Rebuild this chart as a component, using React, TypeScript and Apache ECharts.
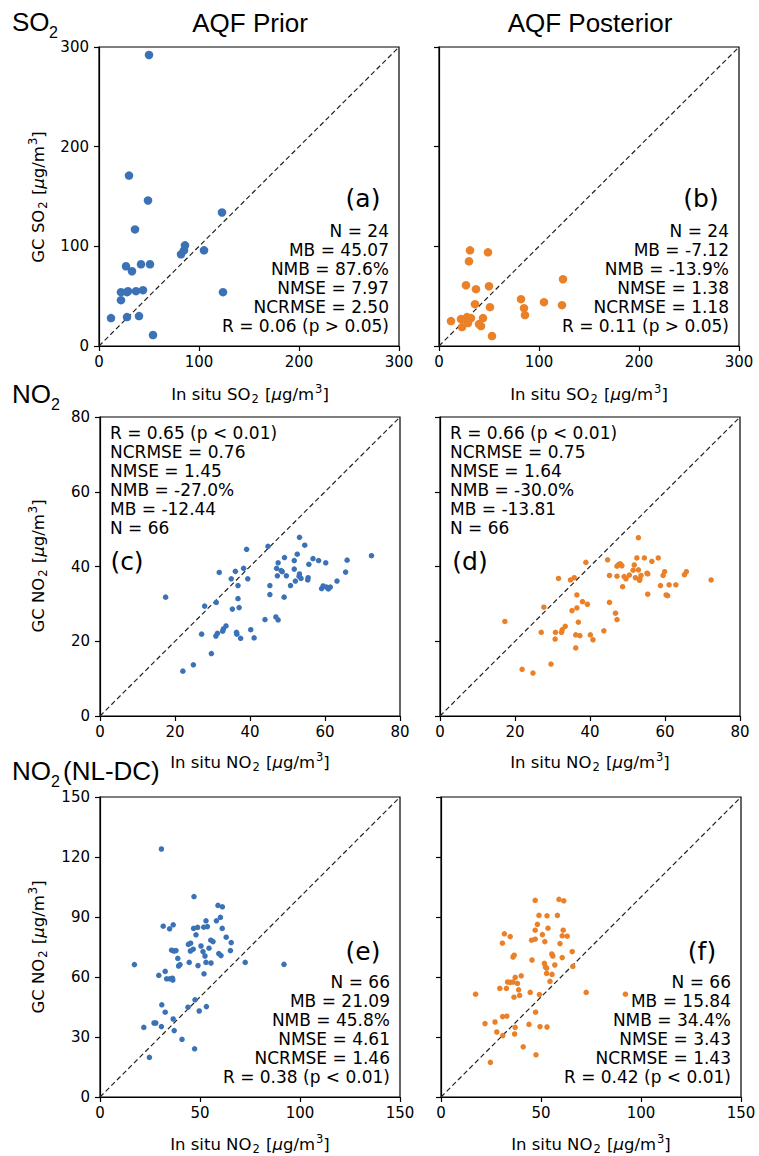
import React, { useEffect, useRef } from "react";
import * as echarts from "echarts";

// ---- Data ----
// (a) SO2, AQF Prior
const so2PriorX = [50, 30, 49, 123, 36, 86, 85, 82, 105, 27, 33, 42, 51, 22, 28, 37, 44, 124, 22, 12, 28, 40, 54, 29];
const so2PriorY = [292, 171, 146, 134, 117, 101, 96, 92, 96, 80, 75, 82, 82, 54, 54, 55, 56, 54, 46, 28, 29, 30, 11, 55];
// (b) SO2, AQF Posterior
const so2PostX = [31, 49, 30, 124, 27, 37, 50, 82, 105, 123, 85, 86, 36, 51, 12, 22, 28, 32, 29, 23, 44, 40, 42, 53];
const so2PostY = [96, 94, 85, 67, 61, 57, 60, 47, 44, 41, 38, 31, 42, 39, 25, 27, 29, 28, 23, 19, 28, 22, 20, 10];
// (c) NO2, AQF Prior
const no2PriorX = [17.5, 22.1, 24.9, 29.7, 27.1, 27.9, 31.0, 31.8, 30.9, 31.3, 32.7, 32.9, 33.6, 35.0, 35.3, 36.1, 36.8, 36.8, 37.1, 36.4, 36.5, 37.5, 38.3, 39.1, 39.4, 40.2, 41.1, 44.0, 44.8, 45.3, 45.3, 46.9, 47.5, 47.5, 47.1, 47.3, 48.3, 49.2, 49.1, 49.7, 50.8, 51.8, 51.8, 52.1, 52.6, 53.2, 53.2, 53.1, 53.6, 54.6, 55.4, 55.5, 55.7, 56.8, 58.3, 59.1, 59.5, 60.2, 60.4, 60.9, 61.4, 63.2, 65.5, 65.9, 72.4, 48.6];
const no2PriorY = [31.8, 12.0, 13.7, 16.7, 21.9, 29.4, 30.4, 38.4, 21.4, 22.1, 22.7, 23.3, 24.1, 36.7, 28.6, 38.7, 34.9, 31.4, 29.0, 22.4, 21.9, 20.8, 39.5, 44.6, 36.7, 23.1, 20.9, 25.8, 45.4, 34.9, 32.5, 26.5, 25.7, 41.0, 39.5, 37.5, 38.9, 42.4, 31.8, 37.5, 34.9, 41.6, 39.3, 36.1, 43.3, 47.8, 38.0, 37.4, 36.8, 45.7, 36.4, 37.0, 40.6, 42.1, 41.6, 34.1, 34.8, 41.0, 34.5, 34.0, 34.5, 36.1, 38.5, 41.7, 42.9, 38.6];
// (d) NO2, AQF Posterior
const no2PostX = [17.3, 21.9, 24.8, 29.6, 27.7, 27.0, 30.7, 30.8, 32.4, 32.6, 33.4, 31.6, 34.8, 35.8, 36.5, 35.2, 36.5, 38.0, 39.3, 36.9, 36.2, 37.3, 36.2, 38.9, 40.1, 40.8, 43.7, 44.7, 45.2, 45.2, 46.8, 47.2, 47.2, 47.2, 47.7, 48.1, 48.7, 49.1, 49.6, 50.5, 51.5, 51.8, 52.1, 52.5, 52.9, 52.9, 53.3, 53.2, 54.5, 55.2, 55.4, 55.4, 56.5, 58.2, 58.8, 59.5, 59.9, 60.3, 60.7, 61.1, 62.9, 65.2, 65.7, 72.3, 53.6, 48.5];
const no2PostY = [25.3, 12.5, 11.5, 13.9, 29.1, 22.4, 20.6, 22.4, 22.4, 23.1, 24.0, 36.8, 36.4, 37.0, 32.4, 28.2, 28.9, 30.6, 29.9, 25.1, 21.7, 21.5, 18.2, 41.1, 21.7, 20.4, 22.8, 41.8, 30.4, 37.6, 27.5, 25.8, 37.4, 40.1, 40.6, 40.7, 34.6, 37.3, 36.7, 37.7, 39.0, 40.4, 37.0, 42.3, 47.7, 39.1, 36.7, 36.3, 42.3, 38.2, 38.0, 32.6, 41.4, 42.3, 34.9, 37.6, 38.6, 32.4, 32.2, 35.1, 35.1, 37.8, 38.6, 36.4, 37.6, 40.2];
// (e) NO2 (NL-DC), AQF Prior
const nldcPriorX = [30.7, 47.0, 59.0, 61.2, 60.2, 58.2, 53.0, 31.6, 36.6, 34.8, 46.8, 48.8, 51.9, 53.7, 61.1, 48.0, 63.1, 55.4, 56.5, 65.6, 45.3, 50.5, 54.5, 46.6, 45.2, 51.5, 35.8, 36.9, 38.0, 65.2, 59.4, 60.5, 52.5, 38.9, 44.6, 53.0, 55.5, 72.6, 92.0, 17.2, 40.0, 39.3, 49.0, 52.0, 32.6, 29.4, 33.3, 34.9, 36.2, 36.4, 47.5, 44.0, 53.2, 49.6, 30.9, 32.6, 36.6, 27.0, 27.9, 21.9, 30.7, 37.1, 41.0, 47.3, 24.7, 44.2];
const nldcPriorY = [124.0, 100.2, 95.8, 95.1, 89.8, 88.1, 88.1, 85.4, 86.1, 84.1, 84.3, 84.8, 84.9, 85.2, 84.3, 81.1, 79.9, 78.4, 77.7, 77.2, 76.9, 75.5, 74.4, 73.9, 73.0, 72.7, 73.4, 73.0, 73.2, 73.2, 71.7, 70.7, 70.5, 69.3, 67.3, 67.3, 67.0, 67.3, 66.3, 66.2, 66.2, 65.5, 65.7, 61.6, 62.8, 60.8, 59.1, 59.1, 59.4, 58.5, 48.6, 44.9, 45.2, 43.0, 46.1, 42.4, 39.0, 37.0, 37.0, 34.8, 35.2, 33.2, 28.8, 24.1, 19.8, 76.3];
// (f) NO2 (NL-DC), AQF Posterior
const nldcPostX = [47.1, 59.0, 61.4, 49.0, 53.0, 58.2, 48.2, 53.5, 47.1, 61.1, 31.7, 34.6, 50.7, 60.6, 63.1, 45.3, 47.1, 51.9, 30.7, 59.5, 65.6, 55.4, 55.9, 36.6, 36.0, 60.6, 45.5, 51.7, 52.2, 52.8, 56.9, 65.9, 52.8, 55.5, 40.1, 37.1, 33.3, 34.6, 36.0, 38.2, 54.5, 29.4, 32.7, 38.8, 17.3, 44.6, 49.2, 72.6, 92.2, 39.3, 36.5, 47.3, 32.9, 30.8, 27.0, 22.0, 44.0, 49.5, 53.0, 37.1, 27.9, 36.8, 30.9, 41.1, 47.5, 24.7];
const nldcPostY = [98.3, 98.8, 98.1, 90.8, 90.6, 90.8, 86.3, 84.4, 83.4, 83.4, 81.6, 80.2, 81.2, 80.6, 80.4, 78.4, 78.9, 77.7, 76.9, 76.7, 72.7, 71.5, 70.5, 70.9, 70.0, 69.7, 68.5, 66.8, 65.0, 64.4, 66.0, 65.3, 61.8, 61.3, 60.6, 59.8, 57.5, 57.3, 57.5, 56.8, 57.8, 54.3, 54.3, 53.6, 51.4, 52.3, 51.2, 52.3, 51.4, 50.8, 49.9, 42.4, 40.4, 40.2, 37.5, 36.7, 36.3, 35.2, 35.0, 34.8, 32.5, 31.5, 30.7, 25.1, 21.1, 17.3];

// Axis ranges / ticks per row
const rowMax = [300, 80, 150];
const rowXInterval = [100, 20, 50];
const rowYInterval = [100, 20, 30];

// Stats annotations
const statsA = ["N = 24", "MB = 45.07", "NMB = 87.6%", "NMSE = 7.97", "NCRMSE = 2.50", "R = 0.06 (p > 0.05)"];
const statsB = ["N = 24", "MB = -7.12", "NMB = -13.9%", "NMSE = 1.38", "NCRMSE = 1.18", "R = 0.11 (p > 0.05)"];
const statsC = ["R = 0.65 (p < 0.01)", "NCRMSE = 0.76", "NMSE = 1.45", "NMB = -27.0%", "MB = -12.44", "N = 66"];
const statsD = ["R = 0.66 (p < 0.01)", "NCRMSE = 0.75", "NMSE = 1.64", "NMB = -30.0%", "MB = -13.81", "N = 66"];
const statsE = ["N = 66", "MB = 21.09", "NMB = 45.8%", "NMSE = 4.61", "NCRMSE = 1.46", "R = 0.38 (p < 0.01)"];
const statsF = ["N = 66", "MB = 15.84", "NMB = 34.4%", "NMSE = 3.43", "NCRMSE = 1.43", "R = 0.42 (p < 0.01)"];
const panelLetters = ["(a)", "(b)", "(c)", "(d)", "(e)", "(f)"];
const columnTitles = ["AQF Prior", "AQF Posterior"];
// rich-text axis titles (subscript 2, italic mu, superscript 3)
const xTitles = [
  "In situ SO{sub|2} [{mu|μ}g/m{sup|3}]",
  "In situ NO{sub|2} [{mu|μ}g/m{sup|3}]",
  "In situ NO{sub|2} [{mu|μ}g/m{sup|3}]",
];
const yTitles = [
  "GC SO{sub|2} [{mu|μ}g/m{sup|3}]",
  "GC NO{sub|2} [{mu|μ}g/m{sup|3}]",
  "GC NO{sub|2} [{mu|μ}g/m{sup|3}]",
];

const BLUE = "#3b72b6";
const ORANGE = "#ea8128";
const TICK_FONT = "DejaVu Sans";
const TITLE_FONT = "Liberation Sans";

export default function App() {
  const ref = useRef<HTMLDivElement>(null);

  useEffect(() => {
    if (!ref.current) return;
    const chart = echarts.init(ref.current, null, { renderer: "svg" });

    const panels = [
      { x: so2PriorX, y: so2PriorY, color: BLUE, row: 0, col: 0, size: 8.5 },
      { x: so2PostX, y: so2PostY, color: ORANGE, row: 0, col: 1, size: 8.5 },
      { x: no2PriorX, y: no2PriorY, color: BLUE, row: 1, col: 0, size: 5.5 },
      { x: no2PostX, y: no2PostY, color: ORANGE, row: 1, col: 1, size: 5.5 },
      { x: nldcPriorX, y: nldcPriorY, color: BLUE, row: 2, col: 0, size: 5.5 },
      { x: nldcPostX, y: nldcPostY, color: ORANGE, row: 2, col: 1, size: 5.5 },
    ];

    const gridPos = [
      { left: 99, top: 47, width: 300, height: 299 },
      { left: 439, top: 47, width: 300, height: 299 },
      { left: 100, top: 417, width: 300, height: 299 },
      { left: 440, top: 417, width: 300, height: 299 },
      { left: 100, top: 797, width: 300, height: 300 },
      { left: 441, top: 797, width: 300, height: 300 },
    ];

    const grid = gridPos.map((g) => ({
      ...g,
      show: true,
      borderColor: "#000",
      borderWidth: 1.2,
      backgroundColor: "#fff",
      containLabel: false,
    }));

    const xAxis = panels.map((p, i) => ({
      type: "value",
      gridIndex: i,
      min: 0,
      max: rowMax[p.row],
      interval: rowXInterval[p.row],
      axisLine: { show: true, onZero: false, lineStyle: { color: "#000", width: 1.2 } },
      axisTick: { show: true, inside: false, length: 5, lineStyle: { color: "#000", width: 1.2 } },
      axisLabel: { show: true, color: "#000", fontSize: 15, fontFamily: TICK_FONT, margin: 8 },
      splitLine: { show: false },
    }));

    const yAxis = panels.map((p, i) => ({
      type: "value",
      gridIndex: i,
      min: 0,
      max: rowMax[p.row],
      interval: rowYInterval[p.row],
      axisLine: { show: true, onZero: false, lineStyle: { color: "#000", width: 1.2 } },
      axisTick: { show: true, inside: false, length: 5, lineStyle: { color: "#000", width: 1.2 } },
      axisLabel: { show: p.col === 0, color: "#000", fontSize: 15, fontFamily: TICK_FONT, margin: 10 },
      splitLine: { show: false },
    }));

    const series: any[] = [];
    panels.forEach((p, i) => {
      series.push({
        type: "line",
        xAxisIndex: i,
        yAxisIndex: i,
        data: [
          [0, 0],
          [rowMax[p.row], rowMax[p.row]],
        ],
        symbol: "none",
        silent: true,
        lineStyle: { color: "#222", width: 1.2, type: [5, 3] },
        z: 2,
      });
      series.push({
        type: "scatter",
        xAxisIndex: i,
        yAxisIndex: i,
        data: p.x.map((v, k) => [v, p.y[k]]),
        symbolSize: p.size,
        itemStyle: { color: p.color, opacity: 1 },
        z: 3,
      });
    });

    const statStyle = (text: string[], x: number, y: number, align: string) => ({
      type: "text",
      x,
      y,
      z: 100,
      style: {
        text: text.join("\n"),
        fill: "#000",
        fontSize: 17,
        fontFamily: TICK_FONT,
        align,
        verticalAlign: "top",
        lineHeight: 19,
      },
    });

    const txt = (text: string, x: number, y: number, fontSize: number, fontFamily: string, align = "center", extra: any = {}) => ({
      type: "text",
      x,
      y,
      z: 100,
      ...extra,
      style: { text, fill: "#000", fontSize, fontFamily, align, verticalAlign: "middle" },
    });

    const AX = 16.5;
    const richTitle = (text: string, x: number, y: number, extra: any = {}) => ({
      type: "text",
      x,
      y,
      z: 100,
      ...extra,
      style: {
        text,
        fill: "#000",
        fontSize: AX,
        fontFamily: TICK_FONT,
        align: "center",
        verticalAlign: "middle",
        lineHeight: 22,
        rich: {
          sub: { fontSize: 11.5, fontFamily: TICK_FONT, fill: "#000", lineHeight: 12, verticalAlign: "bottom", padding: [0, 1, 0, 1] },
          sup: { fontSize: 11.5, fontFamily: TICK_FONT, fill: "#000", lineHeight: 12, verticalAlign: "top", padding: [0, 0, 0, 1] },
          mu: { fontSize: AX, fontFamily: TICK_FONT, fontStyle: "italic", fill: "#000", lineHeight: 22 },
        },
      },
    });

    const graphic: any[] = [
      // column titles
      txt(columnTitles[0], 250, 23, 26, TITLE_FONT),
      txt(columnTitles[1], 590, 23, 26, TITLE_FONT),
      // row labels
      txt("SO", 12, 22, 26, TITLE_FONT, "left"),
      txt("2", 49, 32, 16, TITLE_FONT, "left"),
      txt("NO", 12, 394, 26, TITLE_FONT, "left"),
      txt("2", 51, 404, 16, TITLE_FONT, "left"),
      txt("NO", 12, 771, 26, TITLE_FONT, "left"),
      txt("2", 51, 781, 16, TITLE_FONT, "left"),
      txt("(NL-DC)", 63, 771, 26, TITLE_FONT, "left"),
      // x titles
      richTitle(xTitles[0], 250, 394),
      richTitle(xTitles[0], 589, 394),
      richTitle(xTitles[1], 250, 762),
      richTitle(xTitles[1], 590, 762),
      richTitle(xTitles[2], 250, 1144),
      richTitle(xTitles[2], 591, 1144),
      // y titles
      richTitle(yTitles[0], 38, 197, { rotation: Math.PI / 2 }),
      richTitle(yTitles[1], 38, 566, { rotation: Math.PI / 2 }),
      richTitle(yTitles[2], 38, 947, { rotation: Math.PI / 2 }),
      // panel letters
      txt(panelLetters[0], 363, 198, 25, TICK_FONT),
      txt(panelLetters[1], 701, 198, 25, TICK_FONT),
      txt(panelLetters[2], 127, 561, 25, TICK_FONT),
      txt(panelLetters[3], 470, 561, 25, TICK_FONT),
      txt(panelLetters[4], 363, 951, 25, TICK_FONT),
      txt(panelLetters[5], 702, 951, 25, TICK_FONT),
      // stats
      statStyle(statsA, 389, 221.5, "right"),
      statStyle(statsB, 729, 221.5, "right"),
      statStyle(statsC, 110, 423.5, "left"),
      statStyle(statsD, 450, 423.5, "left"),
      statStyle(statsE, 390, 972.5, "right"),
      statStyle(statsF, 731, 972.5, "right"),
    ];

    chart.setOption({
      animation: false,
      backgroundColor: "#fff",
      grid,
      xAxis,
      yAxis,
      series,
      graphic,
    });

    return () => chart.dispose();
  }, []);

  return (
    <div
      ref={ref}
      style={{ position: "absolute", left: 0, top: 0, width: 759, height: 1156, background: "#fff" }}
    />
  );
}
